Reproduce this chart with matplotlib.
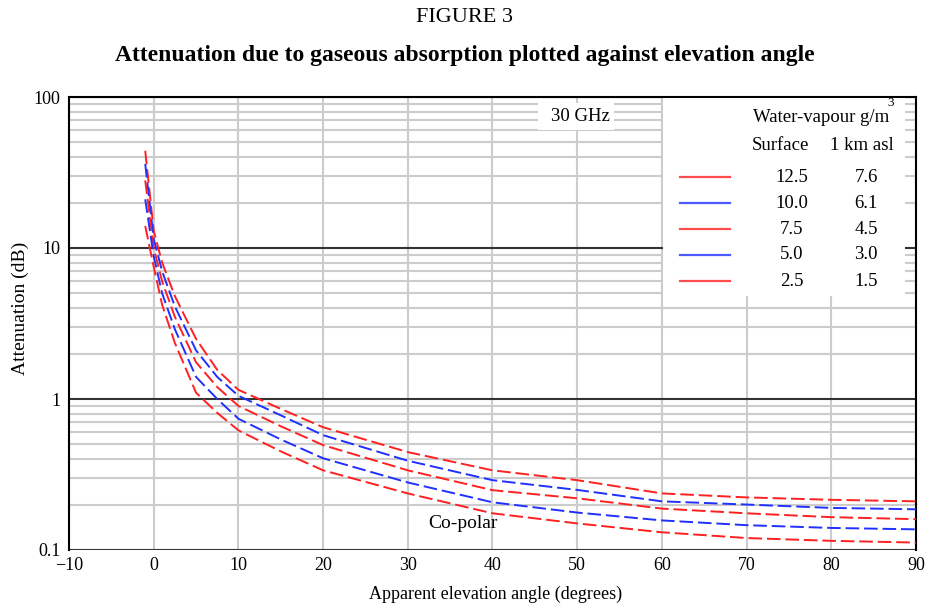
import matplotlib
matplotlib.use('Agg')
import matplotlib.pyplot as plt
from matplotlib.patches import Rectangle

plt.rcParams['font.family'] = ['Liberation Serif', 'DejaVu Serif']

# elevation angles (degrees) and attenuation (dB) for each water-vapour case
angles = [-1, 0, 1, 2.5, 5, 7.5, 10, 15, 20, 30, 40, 50, 60, 70, 80, 90]
att_125 = [44, 13.0, 8.0, 4.8, 2.5, 1.56, 1.15, 0.86, 0.65, 0.445, 0.337, 0.29, 0.237, 0.223, 0.215, 0.21]
att_100 = [36, 11.5, 7.0, 4.1, 2.1, 1.4, 1.05, 0.78, 0.576, 0.39, 0.29, 0.25, 0.21, 0.20, 0.19, 0.186]
att_75 = [28, 10.0, 6.0, 3.5, 1.75, 1.2, 0.9, 0.66, 0.495, 0.337, 0.249, 0.22, 0.188, 0.175, 0.165, 0.16]
att_50 = [21, 8.8, 5.0, 2.9, 1.4, 1.0, 0.74, 0.54, 0.405, 0.28, 0.207, 0.177, 0.157, 0.146, 0.14, 0.137]
att_25 = [14, 7.5, 4.2, 2.35, 1.1, 0.81, 0.62, 0.45, 0.337, 0.237, 0.175, 0.15, 0.131, 0.12, 0.115, 0.112]

series = [att_125, att_100, att_75, att_50, att_25]
surface = ['12.5', '10.0', '7.5', '5.0', '2.5']
asl = ['7.6', '6.1', '4.5', '3.0', '1.5']
colors = ['#ff2020', '#2030ff', '#ff2020', '#2030ff', '#ff2020']

W, H = 929, 606
fig = plt.figure(figsize=(W / 100, H / 100), dpi=100)
ax = fig.add_axes([69 / W, 1 - 550 / H, (916 - 69) / W, (550 - 97) / H])

def fx(px):
    return px / W

def fy(py):
    return 1 - py / H

ax.set_yscale('log')
ax.set_xlim(-10, 90)
ax.set_ylim(0.1, 100)
ax.set_xticks(range(-10, 91, 10))
ax.set_xticklabels(['\u221210'] + [str(v) for v in range(0, 91, 10)])
ax.set_yticks([0.1, 1, 10, 100])
ax.set_yticklabels(['0.1', '1', '10', '100'])
ax.tick_params(axis='both', which='both', length=0, labelsize=13)
ax.tick_params(axis='y', pad=6)
ax.tick_params(axis='x', pad=5)

ax.grid(True, axis='x', color='#cccccc', linewidth=1.5)
ax.grid(True, axis='y', which='minor', color='#cccccc', linewidth=1.5)
ax.grid(True, axis='y', which='major', color='#333333', linewidth=1.5)
ax.set_axisbelow(True)

for s in ['left', 'right', 'top']:
    ax.spines[s].set_linewidth(1.5)
    ax.spines[s].set_color('black')
ax.spines['bottom'].set_visible(False)

for vals, c in zip(series, colors):
    ax.plot(angles, vals, color=c, linewidth=1.4, linestyle=(0, (7, 2.5)), zorder=3)

ax.text(36.5, 0.15, 'Co-polar', ha='center', va='center', fontsize=14, zorder=4)

# legend panel
fig.patches.append(Rectangle((fx(663), fy(296)), fx(905 - 663), (296 - 98) / H,
                             transform=fig.transFigure, facecolor='white',
                             edgecolor='none', zorder=2))
fig.patches.append(Rectangle((fx(538), fy(130)), fx(614 - 538), (130 - 103) / H,
                             transform=fig.transFigure, facecolor='white',
                             edgecolor='none', zorder=2))
fig.text(fx(580), fy(117), '30 GHz', ha='center', va='center', fontsize=13.5, zorder=5)
fig.text(fx(821), fy(118), 'Water-vapour g/m', ha='center', va='center', fontsize=13.5, zorder=5)
fig.text(fx(891), fy(103), '3', ha='center', va='center', fontsize=9.5, zorder=5)
fig.text(fx(780), fy(145), 'Surface', ha='center', va='center', fontsize=13.5, zorder=5)
fig.text(fx(862), fy(145), '1 km asl', ha='center', va='center', fontsize=13.5, zorder=5)
for i, (c, s1, s2) in enumerate(zip(colors, surface, asl)):
    py = 177 + i * 26
    fig.lines.append(plt.Line2D([fx(680), fx(730)], [fy(py), fy(py)],
                                transform=fig.transFigure, color=c, linewidth=1.6,
                                alpha=0.8, zorder=5))
    fig.text(fx(792), fy(py), s1, ha='center', va='center', fontsize=13.5, zorder=5)
    fig.text(fx(866), fy(py), s2, ha='center', va='center', fontsize=13.5, zorder=5)

fig.text(0.5, fy(17), 'FIGURE 3', ha='center', va='center', fontsize=16)
fig.text(fx(465), fy(55), 'Attenuation due to gaseous absorption plotted against elevation angle',
         ha='center', va='center', fontsize=17, fontweight='bold')
fig.text(fx(496), fy(594), 'Apparent elevation angle (degrees)', ha='center', va='center', fontsize=13)
fig.text(fx(20), fy(308), 'Attenuation (dB)', ha='center', va='center', fontsize=14, rotation=90)

fig.savefig('out.png', dpi=100)
